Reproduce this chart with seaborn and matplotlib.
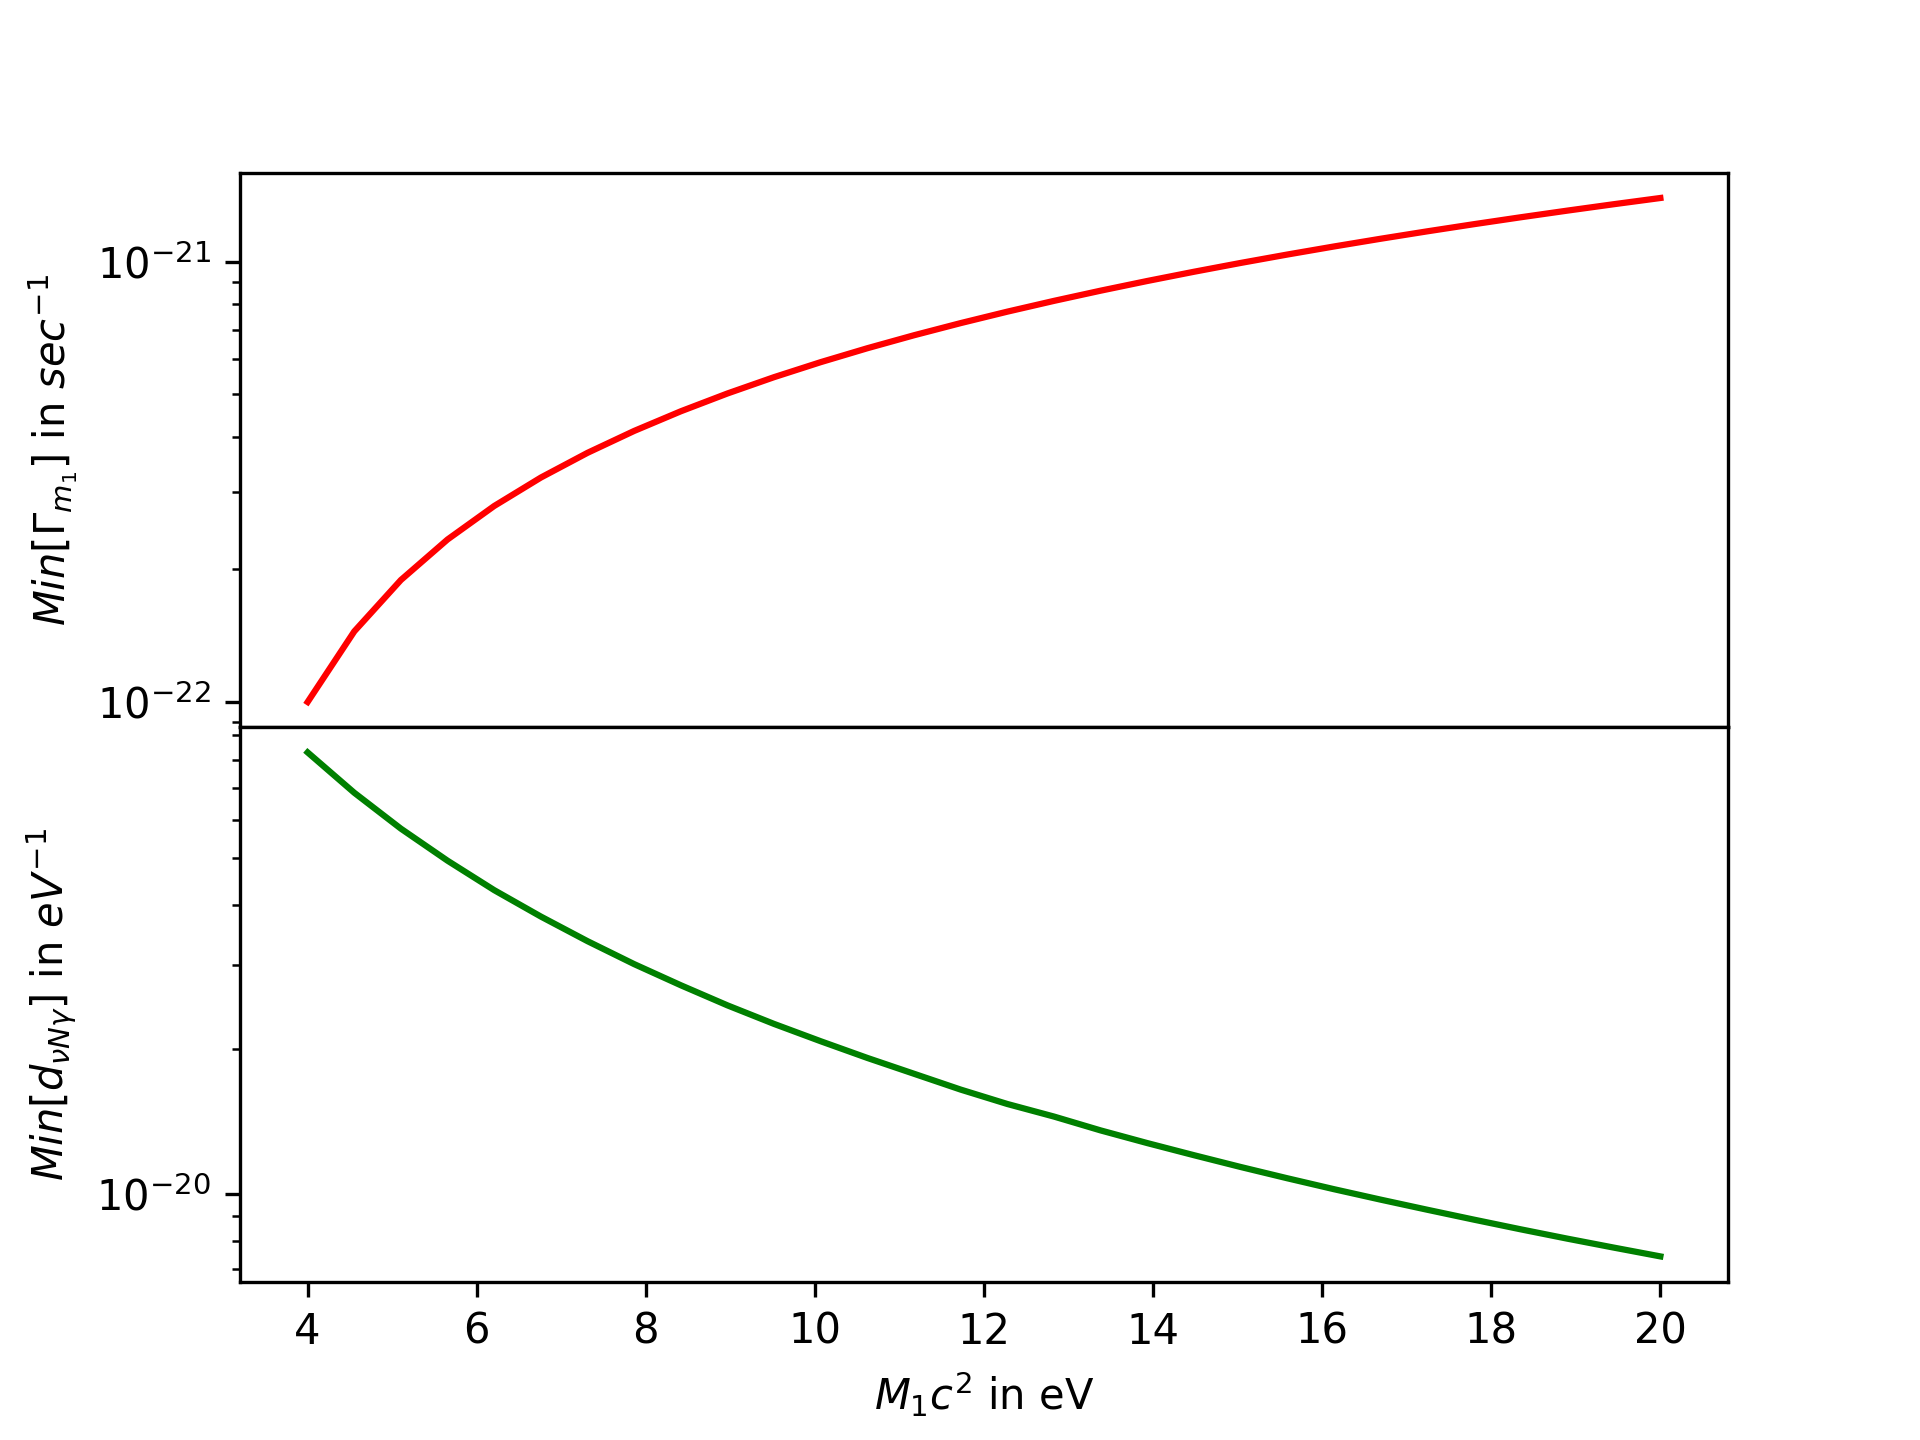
import numpy as np
import matplotlib
matplotlib.use("Agg")
import matplotlib.pyplot as plt
import seaborn as sns
import pandas as pd

# M1 c^2 in eV (30 sample points)
mass = [4.000, 4.552, 5.103, 5.655, 6.207, 6.759, 7.310, 7.862, 8.414, 8.966,
        9.517, 10.069, 10.621, 11.172, 11.724, 12.276, 12.828, 13.379, 13.931, 14.483,
        15.034, 15.586, 16.138, 16.690, 17.241, 17.793, 18.345, 18.897, 19.448, 20.000]

# Min[Gamma_m1] in sec^-1 (units of 1e-22)
gamma_min = [1.000, 1.447, 1.893, 2.340, 2.788, 3.235, 3.681, 4.128, 4.575, 5.022,
             5.469, 5.916, 6.363, 6.809, 7.256, 7.704, 8.151, 8.597, 9.044, 9.491,
             9.938, 10.385, 10.832, 11.279, 11.725, 12.172, 12.619, 13.066, 13.513, 13.960]

# Min[d_nuNgamma] in eV^-1 (units of 1e-20)
d_min = [8.30, 6.84, 5.76, 4.94, 4.29, 3.78, 3.36, 3.01, 2.72, 2.47,
         2.26, 2.08, 1.92, 1.78, 1.65, 1.54, 1.45, 1.357, 1.277, 1.205,
         1.139, 1.079, 1.024, 0.974, 0.928, 0.885, 0.845, 0.808, 0.774, 0.742]

df = pd.DataFrame({
    "M": mass,
    "gamma": np.array(gamma_min) * 1e-22,
    "d": np.array(d_min) * 1e-20,
})

fig, (ax1, ax2) = plt.subplots(2, 1, sharex=True, figsize=(6.4, 4.8), dpi=300)
fig.subplots_adjust(hspace=0)

sns.lineplot(data=df, x="M", y="gamma", color="red", linewidth=1.5, ax=ax1)
ax1.set_yscale("log")
ax1.set_ylabel(r"$Min[\Gamma_{m_1}]$ in $sec^{-1}$")
ax1.set_xlabel("")

sns.lineplot(data=df, x="M", y="d", color="green", linewidth=1.5, ax=ax2)
ax2.set_yscale("log")
ax2.set_ylabel(r"$Min[d_{\nu N\gamma}]$ in $eV^{-1}$")
ax2.set_xlabel(r"$M_1c^2$ in eV")

ax2.set_xticks([4, 6, 8, 10, 12, 14, 16, 18, 20])

fig.savefig("out.png", dpi=300)
plt.close(fig)
